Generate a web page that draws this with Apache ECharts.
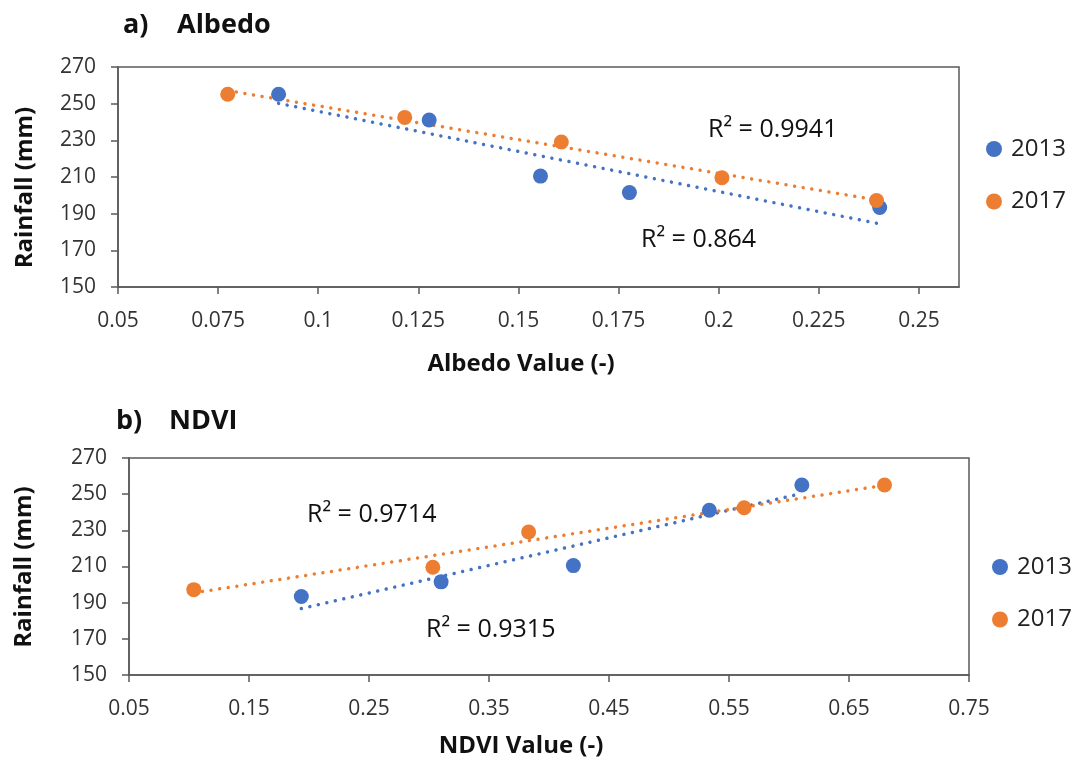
<!DOCTYPE html>
<html>
<head>
<meta charset="utf-8">
<script src="https://cdn.jsdelivr.net/npm/echarts@6.0.0/dist/echarts.min.js"></script>
<style>
html,body{margin:0;padding:0;background:#fff;}
#c{width:1076px;height:762px;}
</style>
</head>
<body>
<div id="c"></div>
<script>
// ---- data ----
const years = ['2013', '2017'];
const rain2013 = [255.1, 241.1, 210.5, 201.5, 193.4];
const rain2017 = [255.1, 242.5, 229.1, 209.6, 197.2];
const albedo2013 = [0.0901, 0.1277, 0.1555, 0.1777, 0.2402];
const albedo2017 = [0.0774, 0.1216, 0.1607, 0.2008, 0.2394];
const ndvi2013 = [0.6107, 0.5336, 0.4203, 0.3101, 0.1936];
const ndvi2017 = [0.6796, 0.5626, 0.3830, 0.3032, 0.1040];
const r2Albedo = ['R² = 0.864', 'R² = 0.9941'];
const r2Ndvi = ['R² = 0.9315', 'R² = 0.9714'];
const albedoTicks = [0.05, 0.075, 0.1, 0.125, 0.15, 0.175, 0.2, 0.225, 0.25];
const ndviTicks = [0.05, 0.15, 0.25, 0.35, 0.45, 0.55, 0.65, 0.75];
const rainTicks = [150, 170, 190, 210, 230, 250, 270];

const BLUE = '#4472C4', ORANGE = '#ED7D31';
const FONT = '"Open Sans", "Noto Sans", sans-serif';
const TXT = '#333333';

function pairs(xs, ys) { return xs.map((x, i) => [x, ys[i]]); }
function trend(xs, ys) {
  const n = xs.length;
  const mx = xs.reduce((a, b) => a + b, 0) / n;
  const my = ys.reduce((a, b) => a + b, 0) / n;
  let sxy = 0, sxx = 0;
  for (let i = 0; i < n; i++) { sxy += (xs[i] - mx) * (ys[i] - my); sxx += (xs[i] - mx) ** 2; }
  const b = sxy / sxx, a = my - b * mx;
  const lo = Math.min(...xs), hi = Math.max(...xs);
  return [[lo, a + b * lo], [hi, a + b * hi]];
}

function xAxisCfg(gi, min, max, ticks) {
  return {
    type: 'value', gridIndex: gi, min: min, max: max,
    axisLine: { show: true, lineStyle: { color: '#595959', width: 1.5 } },
    axisTick: { show: true, length: 7, customValues: ticks, lineStyle: { color: '#595959', width: 1.5 } },
    axisLabel: { customValues: ticks, margin: 24, fontSize: 21, fontFamily: FONT, color: TXT },
    splitLine: { show: false }
  };
}
function yAxisCfg(gi) {
  return {
    type: 'value', gridIndex: gi, min: rainTicks[0], max: rainTicks[rainTicks.length - 1], interval: 20,
    axisLine: { show: true, lineStyle: { color: '#595959', width: 1.5 } },
    axisTick: { show: true, length: 7, lineStyle: { color: '#595959', width: 1.5 } },
    axisLabel: { margin: 22, fontSize: 21, fontFamily: FONT, color: TXT },
    splitLine: { show: false }
  };
}
function scatter(name, gi, xs, ys, color) {
  return {
    name: name, type: 'scatter', xAxisIndex: gi, yAxisIndex: gi,
    data: pairs(xs, ys), symbol: 'circle', symbolSize: 15,
    itemStyle: { color: color, opacity: 1 }, z: 3
  };
}
function trendSeries(name, gi, xs, ys, color) {
  return {
    name: name, type: 'line', xAxisIndex: gi, yAxisIndex: gi,
    data: trend(xs, ys), showSymbol: false, symbol: 'none', silent: true,
    lineStyle: { color: color, width: 3.5, type: [0.01, 8.7], cap: 'round' }, z: 2
  };
}
function legendCfg(left, top) {
  return {
    data: years, orient: 'vertical', left: left, top: top, padding: 0,
    icon: 'circle', itemWidth: 16, itemHeight: 16, itemGap: 28.5, selectedMode: false,
    itemStyle: { opacity: 1 },
    textStyle: { fontSize: 24, lineHeight: 24, fontFamily: FONT, color: '#222', padding: [0, 0, 0, 4] }
  };
}
function txt(x, y, s, size, bold, opts) {
  return Object.assign({
    type: 'text', x: x, y: y, silent: true,
    style: { text: s, fontSize: size, fontWeight: bold ? 'bold' : 'normal', fontFamily: FONT,
      fill: '#111', align: 'left', verticalAlign: 'middle' }
  }, opts || {});
}

const chart = echarts.init(document.getElementById('c'), null, { renderer: 'canvas' });
chart.setOption({
  animation: false,
  backgroundColor: '#fff',
  grid: [
    { left: 118, top: 67, width: 841, height: 220, show: true, borderColor: '#595959', borderWidth: 1.5, containLabel: false },
    { left: 129, top: 458, width: 840, height: 217, show: true, borderColor: '#595959', borderWidth: 1.5, containLabel: false }
  ],
  xAxis: [xAxisCfg(0, 0.05, 0.26, albedoTicks), xAxisCfg(1, 0.05, 0.75, ndviTicks)],
  yAxis: [yAxisCfg(0), yAxisCfg(1)],
  legend: [legendCfg(986, 137), legendCfg(992, 555)],
  series: [
    trendSeries('Linear (2013)', 0, albedo2013, rain2013, BLUE),
    trendSeries('Linear (2017)', 0, albedo2017, rain2017, ORANGE),
    scatter(years[0], 0, albedo2013, rain2013, BLUE),
    scatter(years[1], 0, albedo2017, rain2017, ORANGE),
    trendSeries('Linear (2013) ', 1, ndvi2013, rain2013, BLUE),
    trendSeries('Linear (2017) ', 1, ndvi2017, rain2017, ORANGE),
    scatter(years[0], 1, ndvi2013, rain2013, BLUE),
    scatter(years[1], 1, ndvi2017, rain2017, ORANGE)
  ],
  graphic: [
    txt(123, 25, 'a)', 27, true),
    txt(177, 25, 'Albedo', 27, true),
    txt(116, 421, 'b)', 27, true),
    txt(169, 421, 'NDVI', 27, true),
    txt(521, 364, 'Albedo Value (-)', 24, true, {}),
    txt(521, 746, 'NDVI Value (-)', 24, true, {}),
    txt(25, 187.5, 'Rainfall (mm)', 24, true, { rotation: Math.PI / 2 }),
    txt(24, 567, 'Rainfall (mm)', 24, true, { rotation: Math.PI / 2 }),
    txt(708, 130, r2Albedo[1], 25, false),
    txt(641, 240, r2Albedo[0], 25, false),
    txt(307, 515, r2Ndvi[1], 25, false),
    txt(426, 630, r2Ndvi[0], 25, false)
  ].map(g => {
    if (g.style.text.indexOf('Value') >= 0 || g.style.text.indexOf('Rainfall') >= 0) g.style.align = 'center';
    return g;
  })
});
</script>
</body>
</html>
